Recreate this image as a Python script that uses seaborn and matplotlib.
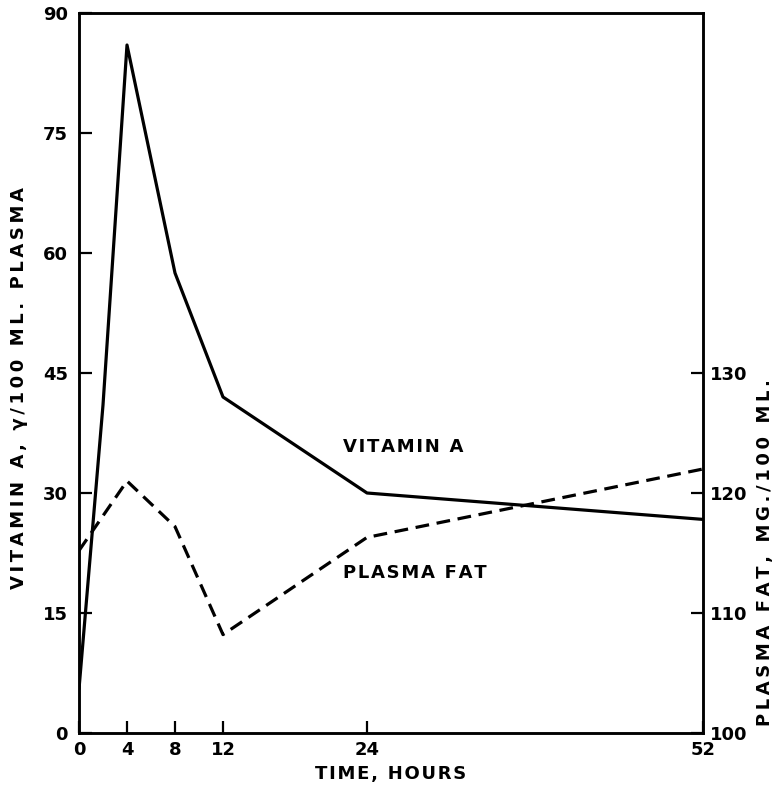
import matplotlib
matplotlib.use("Agg")
import matplotlib.pyplot as plt
import seaborn as sns
import numpy as np
import pandas as pd

# data
vit_hours = [0, 2, 4, 8, 12, 24, 52]
vit_a = [5.5, 41, 86, 57.5, 42, 30, 26.7]          # gamma / 100 ml plasma

fat_hours = [0, 4, 8, 12, 24, 52]
plasma_fat = [115.2, 121, 117.2, 108.2, 116.3, 122]  # mg / 100 ml

x_ticks = [0, 4, 8, 12, 24, 52]
left_ticks = [0, 15, 30, 45, 60, 75, 90]
right_ticks = [100, 110, 120, 130]


def spaced(s, sep='\u2009'):
    # the hand lettering is set wide, add a small space between letters
    return sep.join(s)


sns.set_theme(style='ticks')
plt.rcParams['font.family'] = ['DejaVu Sans']
plt.rcParams['font.weight'] = 'bold'
plt.rcParams['text.color'] = 'black'
plt.rcParams['axes.labelcolor'] = 'black'

fig = plt.figure(figsize=(7.77, 7.86), dpi=100)
ax = fig.add_axes([79/777, 1 - 733/786, 624/777, 720/786])
ax2 = ax.twinx()

sns.lineplot(x=vit_hours, y=vit_a, ax=ax, color='black', linewidth=2.3, sort=False)
sns.lineplot(x=fat_hours, y=plasma_fat, ax=ax2, color='black', linewidth=2.3,
             sort=False, ls=(0, (4.3, 2.4)))

ax.set_xlim(0, 52)
ax.set_ylim(0, 90)
ax2.set_ylim(100, 160)

ax.set_xticks(x_ticks)
ax.set_yticks(left_ticks)
ax2.set_yticks(right_ticks)

tick_kw = dict(direction='in', length=9, width=1.6, labelsize=13, colors='black')
ax.tick_params(axis='x', pad=6, **tick_kw)
ax.tick_params(axis='y', pad=8, **tick_kw)
ax2.tick_params(axis='y', pad=5, **tick_kw)

for a in (ax, ax2):
    for s in a.spines.values():
        s.set_visible(True)
        s.set_linewidth(1.8)
        s.set_color('black')
    for lab in a.get_xticklabels() + a.get_yticklabels():
        lab.set_fontweight('bold')

ax.set_xlabel(spaced('TIME, HOURS', '\u200a'), fontsize=13, fontweight='bold',
              labelpad=4)
ax.set_ylabel(spaced('VITAMIN A, γ/100 ML. PLASMA'), fontsize=13, fontweight='bold')
ax.yaxis.set_label_coords(-0.082, 0.479)
ax2.set_ylabel(spaced('PLASMA FAT, MG./100 ML.'), fontsize=13, fontweight='bold',
               rotation=90)
ax2.yaxis.set_label_coords(1.085, 0.25)

ax.text(22, 35.75, spaced('VITAMIN A', '\u200a'), fontsize=13, fontweight='bold',
        ha='left', va='center', color='black')
ax.text(22, 20, spaced('PLASMA FAT', '\u200a'), fontsize=13, fontweight='bold',
        ha='left', va='center', color='black')

fig.savefig('out.png', dpi=100)
